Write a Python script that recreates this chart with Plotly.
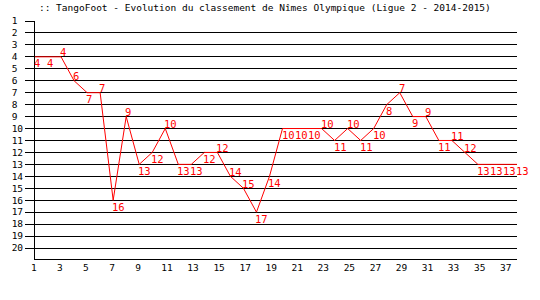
import plotly.graph_objects as go

title_text = ":: TangoFoot - Evolution du classement de Nîmes Olympique (Ligue 2 - 2014-2015)"
matches = list(range(1, 39))
ranks = [4, 4, 4, 6, 7, 7, 16, 9, 13, 12, 10, 13, 13, 12, 12, 14, 15, 17, 14, 10,
         10, 10, 10, 11, 10, 11, 10, 8, 7, 9, 9, 11, 11, 12, 13, 13, 13, 13]
x_tick_vals = list(range(1, 39, 2))
y_tick_vals = list(range(1, 21))

NB = "\u00a0"
x_tick_text = [NB * len(str(v)) + str(v) for v in x_tick_vals]
y_tick_text = [str(v) + NB * (2 - len(str(v))) for v in y_tick_vals]

MONO = "DejaVu Sans Mono"
RED = "#ff0000"

fig = go.Figure()
fig.add_trace(go.Scatter(x=matches, y=ranks, mode="lines",
                         line=dict(color=RED, width=1), hoverinfo="skip",
                         cliponaxis=False))

annotations = []
for i, (m, r) in enumerate(zip(matches, ranks)):
    above = i + 1 < len(ranks) and ranks[i + 1] > r
    annotations.append(dict(
        x=m, y=r, xref="x", yref="y", text=str(r), showarrow=False,
        xanchor="left", yanchor="middle",
        xshift=-3, yshift=4.5 if above else -6.5,
        font=dict(family=MONO, size=10.5, color=RED),
    ))

fig.update_layout(
    width=540, height=300,
    margin=dict(l=31, r=23, t=21, b=41),
    paper_bgcolor="white", plot_bgcolor="white",
    showlegend=False,
    font=dict(family=MONO, size=9.5, color="black"),
    title=dict(text=title_text, xref="paper", yref="container",
               x=4 / 486, xanchor="left", y=1 - 7.5 / 300, yanchor="middle",
               pad=dict(l=0, r=0, t=0, b=0),
               font=dict(family=MONO, size=9.5, color="black")),
    annotations=annotations,
    xaxis=dict(range=[1, 38], tickmode="array", tickvals=x_tick_vals,
               ticktext=x_tick_text, showgrid=False, zeroline=False,
               showline=True, linecolor="black", linewidth=1,
               ticks="", ticklabelshift=-4,
               tickfont=dict(family=MONO, size=9.5, color="black")),
    yaxis=dict(range=[20.92, 1], tickmode="array", tickvals=y_tick_vals,
               ticktext=y_tick_text, showgrid=True, gridcolor="black",
               gridwidth=1, zeroline=False, showline=True, linecolor="black",
               linewidth=1, ticks="outside", ticklen=9, tickcolor="black",
               tickwidth=1, ticklabelstandoff=0,
               tickfont=dict(family=MONO, size=9.5, color="black")),
)

fig.write_html("out.html")
